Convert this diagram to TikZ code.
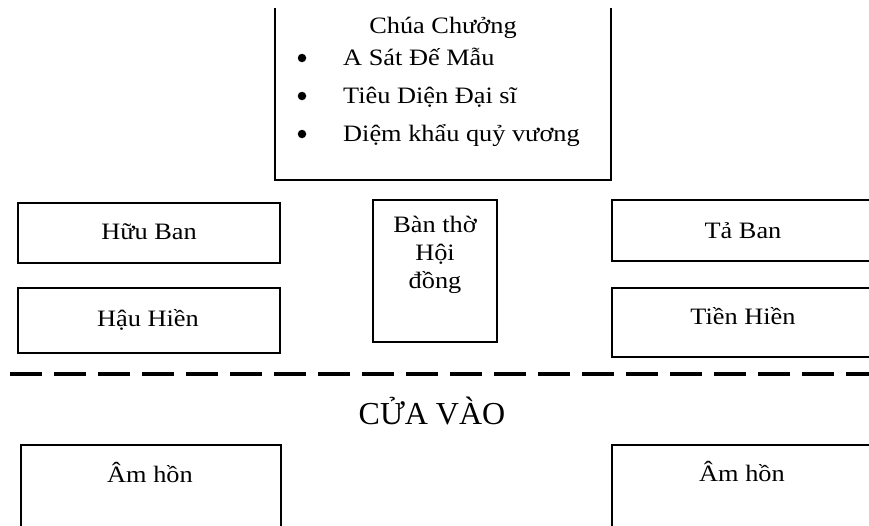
\documentclass[tikz,border=0pt]{standalone}
\usepackage{fontspec}
\setmainfont{Liberation Serif}
\usepackage{graphicx}
\newcommand{\sxw}[1]{\scalebox{1.12}[1]{#1}}
\begin{document}
\begin{tikzpicture}[x=1pt,y=-1pt,
  box/.style={draw,line width=1.6pt},
  rbox/.style={draw,line width=1.6pt,rectangle,inner sep=0pt},
  txt/.style={inner sep=0pt,anchor=base,font=\fontsize{23.5}{28}\selectfont},
  bul/.style={circle,fill,inner sep=0pt,minimum size=8.5pt},
  doorline/.style={line width=4pt,dash pattern=on 32pt off 12pt},
]
\useasboundingbox (0,0) rectangle (869,525);
\clip (0,0) rectangle (869,525);

% top box (open at top)
\draw[box] (275,8) -- (275,180) -- (611,180) -- (611,8);
\node[txt] (chua) at (443,33) {\sxw{Chúa Chưởng}};
\node[bul] (b1) at (302,58) {};
\node[bul] (b2) at (302,96) {};
\node[bul] (b3) at (302,134) {};
\node[txt,anchor=base west] (i1) at (343,65) {\sxw{A Sát Đế Mẫu}};
\node[txt,anchor=base west] (i2) at (343,103) {\sxw{Tiêu Diện Đại sĩ}};
\node[txt,anchor=base west] (i3) at (343,141) {\sxw{Diệm khẩu quỷ vương}};

% left boxes
\node[rbox,minimum width=262pt,minimum height=60pt] (huuban) at (149,233) {};
\node[txt] (huubant) at (149,239) {\sxw{Hữu Ban}};
\node[rbox,minimum width=262pt,minimum height=65pt] (hauhien) at (149,320.5) {};
\node[txt] (hauhient) at (148,326) {\sxw{Hậu Hiền}};

% right boxes
\node[rbox,minimum width=262pt,minimum height=61pt] (taban) at (743,230.5) {};
\node[txt] (tabant) at (743,238) {\sxw{Tả Ban}};
\node[rbox,minimum width=262pt,minimum height=69pt] (tienhien) at (743,322.5) {};
\node[txt] (tienhient) at (743,324) {\sxw{Tiền Hiền}};

% center altar
\node[rbox,minimum width=124pt,minimum height=142pt] (bantho) at (435,271) {};
\node[txt] (bt1) at (435,232) {\sxw{Bàn thờ}};
\node[txt] (bt2) at (435,260) {\sxw{Hội}};
\node[txt] (bt3) at (435,288) {\sxw{đồng}};

% dashed line
\coordinate (dl) at (10,374);
\coordinate (dr) at (880,374);
\draw[doorline] (dl) -- (dr);

\node[inner sep=0pt,anchor=base,font=\fontsize{32}{38}\selectfont] (cua) at (432,424) {CỬA VÀO};

% bottom boxes (open at bottom)
\draw[box] (21,535) -- (21,445) -- (281,445) -- (281,535);
\node[txt] (am1) at (150,482) {\sxw{Âm hồn}};
\draw[box] (612,535) -- (612,445) -- (880,445);
\node[txt] (am2) at (742,481) {\sxw{Âm hồn}};
\end{tikzpicture}
\end{document}
